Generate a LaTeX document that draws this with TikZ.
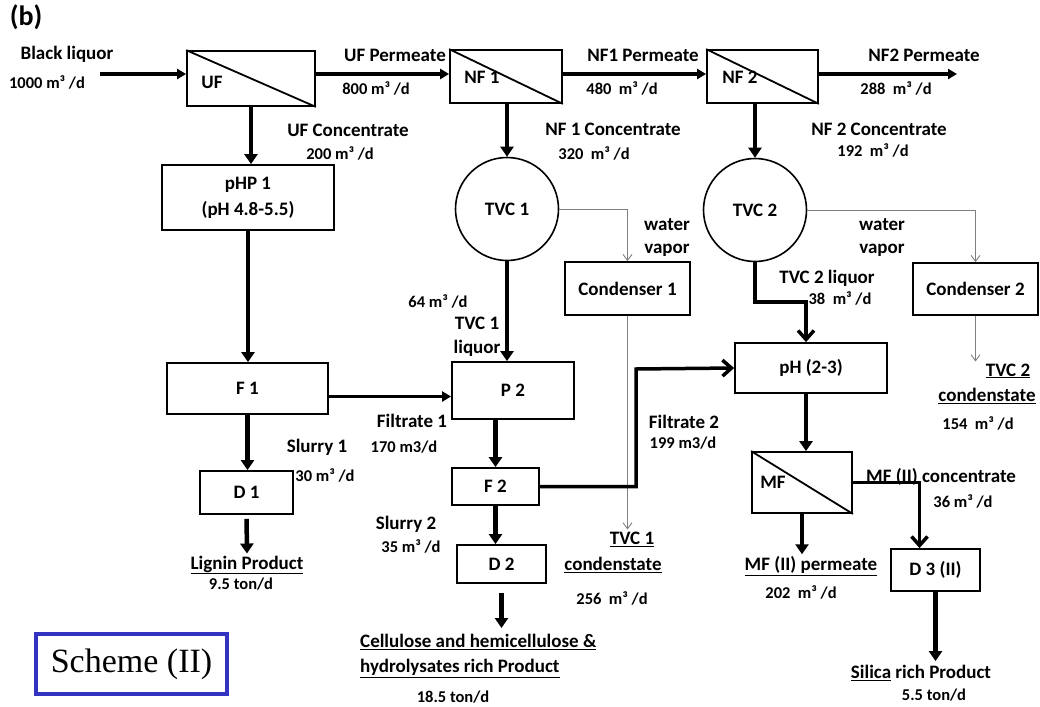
\documentclass[tikz,border=0pt]{standalone}
\usepackage{fontspec}
\setmainfont{Carlito}
\newfontfamily\schemefont{Liberation Serif}
\usetikzlibrary{arrows.meta}
\begin{document}
\begin{tikzpicture}[x=1pt,y=-1pt,
  font=\bfseries\fontsize{19}{22}\selectfont,
  box/.style={draw, line width=1.8pt, inner sep=0pt, align=center},
  circ/.style={draw, circle, line width=1.6pt, minimum size=103pt, inner sep=0pt},
  lbl/.style={inner sep=0pt, align=center},
  val/.style={inner sep=0pt, font=\bfseries\fontsize{16.5}{19}\selectfont},
  varr/.style={line width=4.5pt, -{Triangle[width=13pt,length=10pt]}},
  harr/.style={line width=3.5pt, -{Triangle[width=10pt,length=9pt]}},
  oarr/.style={line width=3.5pt, -{Straight Barb[width=16pt,length=9pt]}},
  garr/.style={line width=0.9pt, draw=gray, -{Straight Barb[width=9pt,length=6pt]}},
  memb/.style={line width=1.8pt}
]
\fill[white] (0,0) rectangle (1040,706);
\useasboundingbox (0,0) rectangle (1040,706);

% title
\node[lbl, font=\bfseries\fontsize{28}{30}\selectfont] (ttl) at (26,17) {(b)};

% boxes
\node[box, minimum width=128pt, minimum height=55pt] (uf) at (251,78.5) {};
\node[box, minimum width=112pt, minimum height=53pt] (nf1) at (506,76.5) {};
\node[box, minimum width=111pt, minimum height=53pt] (nf2) at (762.5,76.5) {};
\draw[memb] (uf.north west) -- (uf.south east);
\draw[memb] (nf1.north west) -- (nf1.south east);
\draw[memb] (nf2.north west) -- (nf2.south east);
\node[lbl] (uft) at (212,82) {UF};
\node[lbl] (nf1t) at (482,77) {NF 1};
\node[lbl] (nf2t) at (740,77) {NF 2};

\node[box, minimum width=172pt, minimum height=65pt, font=\bfseries\fontsize{19}{26}\selectfont] (php) at (248,197.5) {pHP 1\\(pH 4.8-5.5)};
\node[box, minimum width=161pt, minimum height=51pt] (f1) at (247.5,388.5) {F 1};
\node[box, minimum width=93pt, minimum height=43pt] (d1) at (246.5,492.5) {D 1};
\node[box, minimum width=122pt, minimum height=57pt] (p2) at (513,390.5) {P 2};
\node[box, minimum width=87pt, minimum height=37pt] (f2) at (495.5,486.5) {F 2};
\node[box, minimum width=89pt, minimum height=38pt] (d2) at (501.5,564) {D 2};
\node[circ] (tvc1) at (507,209) {TVC 1};
\node[circ] (tvc2) at (755,210) {TVC 2};
\node[box, minimum width=125pt, minimum height=53pt] (cd1) at (627.5,288.5) {Condenser 1};
\node[box, minimum width=125pt, minimum height=52pt] (cd2) at (975.5,289) {Condenser 2};
\node[box, minimum width=152pt, minimum height=50pt] (ph) at (811,368) {pH (2-3)};
\node[box, minimum width=100pt, minimum height=61pt] (mf) at (802,482.5) {};
\draw[memb] (mf.north west) -- (mf.south east);
\node[lbl] (mft) at (773,482) {MF};
\node[box, minimum width=89pt, minimum height=42pt] (d3) at (935.5,570) {D 3 (II)};

% texts
\node[lbl] (blq) at (67,54) {Black liquor};
\node[val] (blv) at (47,82) {1000 m³ /d};
\node[lbl] (ufp) at (395,55) {UF Permeate};
\node[val] (ufpv) at (376,88) {800 m³ /d};
\node[lbl] (nf1p) at (643,55) {NF1 Permeate};
\node[val] (nf1pv) at (622,88) {480~ m³ /d};
\node[lbl] (nf2p) at (924,55) {NF2 Permeate};
\node[val] (nf2pv) at (896,88) {288~ m³ /d};
\node[lbl] (ufc) at (348,130) {UF Concentrate};
\node[val] (ufcv) at (340,153) {200 m³ /d};
\node[lbl] (nf1c) at (613,129) {NF 1 Concentrate};
\node[val] (nf1cv) at (594,153) {320~ m³ /d};
\node[lbl] (nf2c) at (879,129) {NF 2 Concentrate};
\node[val] (nf2cv) at (873,150) {192~ m³ /d};
\node[lbl] (wv1a) at (667,225) {water};
\node[lbl] (wv1b) at (667,250) {vapor};
\node[lbl] (wv2a) at (882,225) {water};
\node[lbl] (wv2b) at (882,250) {vapor};
\node[val] (t1v) at (438,301) {64 m³ /d};
\node[lbl] (t1a) at (477,323) {TVC 1};
\node[lbl] (t1b) at (477,348) {liquor};
\node[lbl] (t2a) at (827,278) {TVC 2 liquor};
\node[val] (t2v) at (840,298) {38~ m³ /d};
\node[lbl] (c2a) at (1008,371) {\underline{TVC 2}};
\node[lbl] (c2b) at (987,396) {\underline{condenstate}};
\node[val] (c2v) at (978,423) {154~ m³ /d};
\node[lbl] (fl1) at (412,421) {Filtrate 1};
\node[val] (fl1v) at (404,447) {170 m3/d};
\node[lbl] (sl1) at (317,447) {Slurry 1};
\node[val] (sl1v) at (325,475) {30 m³ /d};
\node[lbl] (lig) at (247,565) {\underline{Lignin Product}};
\node[val] (ligv) at (241,584) {9.5 ton/d};
\node[lbl] (fl2) at (684,422) {Filtrate 2};
\node[val] (fl2v) at (683,443) {199 m3/d};
\node[lbl] (sl2) at (406,524) {Slurry 2};
\node[val] (sl2v) at (411,546) {35 m³ /d};
\node[lbl] (c1a) at (632,539) {\underline{TVC 1}};
\node[lbl] (c1b) at (613,565) {\underline{condenstate}};
\node[val] (c1v) at (612,598) {256~ m³ /d};
\node[lbl, anchor=north west, align=left, font=\bfseries\fontsize{19}{25}\selectfont] (cel) at (360,634)
  {\underline{Cellulose and hemicellulose \&}\\\underline{hydrolysates rich Product}};
\node[val] (celv) at (453,697) {18.5 ton/d};
\node[lbl] (mfc) at (941,477) {MF (II) concentrate};
\node[val] (mfcv) at (963,501) {36 m³ /d};
\node[lbl] (mfp) at (811,566) {\underline{MF (II) permeate}};
\node[val] (mfpv) at (801,592) {202~ m³ /d};
\node[lbl] (sil) at (921,673) {\underline{Silica} rich Product};
\node[val] (silv) at (934,695) {5.5 ton/d};

\node[draw=blue!70!black!80, line width=3.5pt, inner sep=0pt, minimum width=191pt, minimum height=60pt,
  font=\schemefont\fontsize{34}{36}\selectfont] (sch) at (131.5,664) {Scheme (II)};

% connectors
\coordinate (bl) at (100,74);
\coordinate (p2end) at (957,74);
\draw[harr] (bl) -- (bl -| uf.west);
\draw[harr] (bl -| uf.east) -- (bl -| nf1.west);
\draw[harr] (bl -| nf1.east) -- (bl -| nf2.west);
\draw[harr] (bl -| nf2.east) -- (p2end);

\draw[varr] (uf.south) -- (uf.south |- php.north);
\draw[varr] (php.south) -- (php.south |- f1.north);
\draw[harr] ([yshift=-8pt]f1.east) -- ([yshift=-8pt]f1.east -| p2.west);
\draw[varr] (f1.south) -- (f1.south |- d1.north);
\draw[varr, shorten <=4pt] (d1.south) -- ([yshift=2pt]lig.north);

\draw[varr] (tvc1.north |- nf1.south) -- (tvc1.north);
\draw[varr] (tvc1.south) -- (tvc1.south |- p2.north);
\draw[garr] (tvc1.east) -| (cd1.north);
\draw[garr] (cd1.south) -- ([yshift=2pt]cd1.south |- c1a.north);

\draw[varr] (f2.north |- p2.south) -- (f2.north);
\coordinate (fk) at (636,369);
\draw[oarr] (f2.east) -| (fk) -- (ph.west);
\draw[varr] (f2.south) -- (f2.south |- d2.north);
\draw[varr, shorten <=9pt] (d2.south) -- ([yshift=6pt]d2.south |- cel.north);

\draw[varr] (tvc2.north |- nf2.south) -- (tvc2.north);
\draw[garr] (tvc2.east) -| (cd2.north);
\draw[garr] (cd2.south) -- ([yshift=2pt]cd2.south |- c2a.north);
\coordinate (tk) at (806,302);
\draw[oarr] (tvc2.south) |- (tk) -- (tk |- ph.north);
\draw[varr] (tk |- ph.south) -- (tk |- mf.north);

\draw[oarr] (mf.east) -| ([xshift=-16pt]d3.north);
\draw[varr] (mf.south) -- ([yshift=2pt]mf.south |- mfp.north);
\draw[varr] (d3.south) -- ([yshift=4pt]d3.south |- sil.north);
\end{tikzpicture}
\end{document}
